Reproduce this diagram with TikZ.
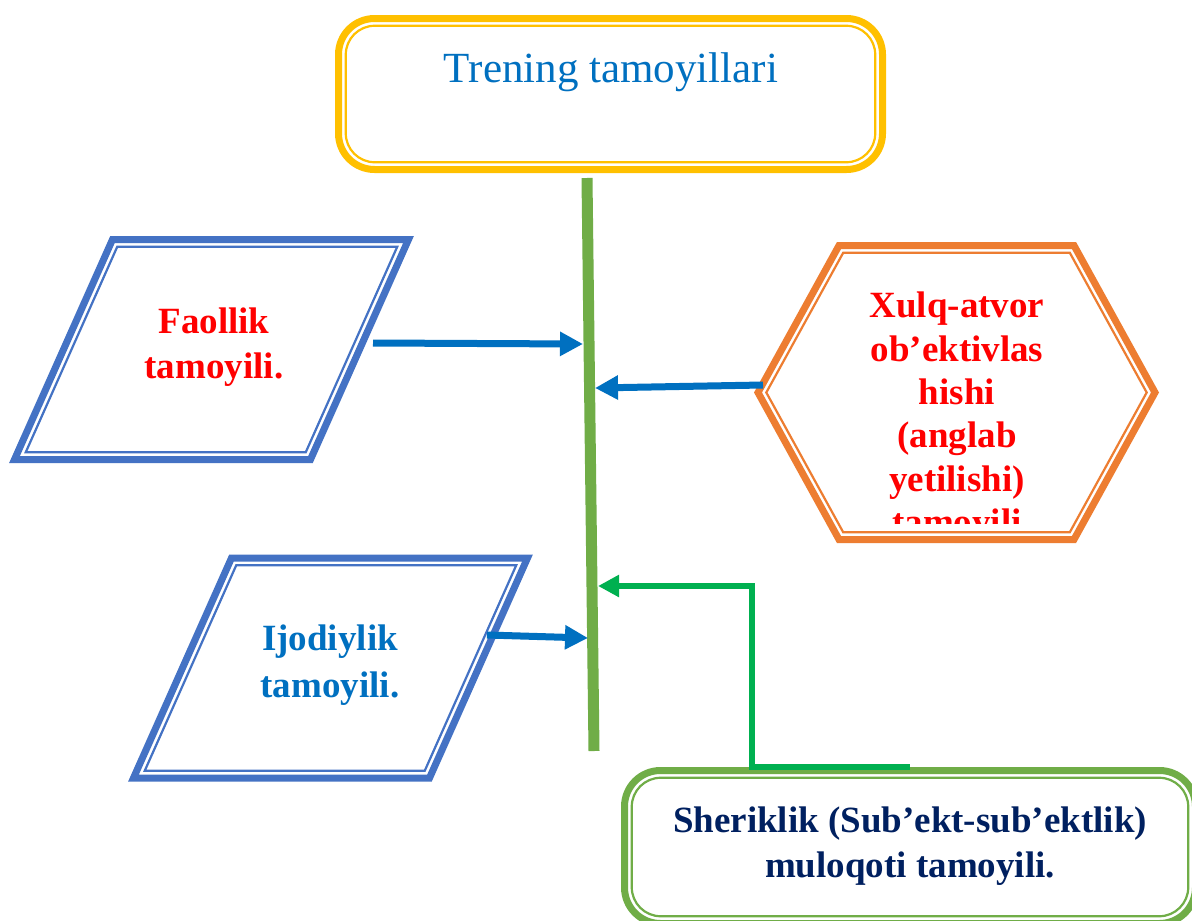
\documentclass[tikz,border=0pt]{standalone}
\usepackage{fontspec}
\setmainfont{Liberation Serif}
\usepackage{xcolor}
\definecolor{gold}{HTML}{FFC000}
\definecolor{titleblue}{HTML}{0070C0}
\definecolor{frameblue}{HTML}{4472C4}
\definecolor{hexorange}{HTML}{ED7D31}
\definecolor{spinegreen}{HTML}{70AD47}
\definecolor{arrowgreen}{HTML}{00B050}
\definecolor{navy}{HTML}{002060}
\definecolor{purered}{HTML}{FF0000}
\usepackage{tikz}
\usetikzlibrary{arrows.meta,calc}
% parallelogram: centre, width, height, slant, style
\newcommand{\pgram}[5]{\draw[#5] ($(#1)+({-#2/2+#4/2},{-#3/2})$) -- ($(#1)+({#2/2+#4/2},{-#3/2})$)
  -- ($(#1)+({#2/2-#4/2},{#3/2})$) -- ($(#1)+({-#2/2-#4/2},{#3/2})$) -- cycle;}
% hexagon: centre, half width, half top edge, half height, style
\newcommand{\hexa}[5]{\draw[#5] ($(#1)+(-#2,0)$) -- ($(#1)+(-#3,-#4)$) -- ($(#1)+(#3,-#4)$)
  -- ($(#1)+(#2,0)$) -- ($(#1)+(#3,#4)$) -- ($(#1)+(-#3,#4)$) -- cycle;}

\begin{document}
\begin{tikzpicture}[x=1pt,y=-1pt,
  thickframe/.style={line width=7pt},
  thinframe/.style={line width=2.2pt},
  lbl/.style={align=center,inner sep=0pt,anchor=north},
  barrow/.style={-{Triangle[length=23pt,width=23pt]},line width=7pt,titleblue},
  garrow/.style={-{Triangle[length=21pt,width=21pt]},line width=6pt,arrowgreen}]
\path[use as bounding box,fill=white] (0,0) rectangle (1192,921);
\clip (0,0) rectangle (1192,921);
% title
\node[draw=gold,thickframe,rounded corners=36pt,minimum width=544pt,minimum height=151pt] (topbox) at (610.5,94) {};
\node[draw=gold,thinframe,rounded corners=29pt,minimum width=529.5pt,minimum height=136.5pt] (topinner) at (topbox.center) {};
\node[font=\fontsize{43}{50}\selectfont,text=titleblue,anchor=base,inner sep=0pt] (title) at (611,82) {Trening tamoyillari};
% spine
\coordinate (ltop) at (587,178);
\coordinate (lbot) at (594,751);
\draw[spinegreen,line width=11pt] (ltop) -- (lbot);
% left shapes
\coordinate (faolC) at (211.5,349.5);
\pgram{faolC}{296}{220}{98}{frameblue,thickframe}
\pgram{faolC}{280}{205.5}{91.5}{frameblue,thinframe}
\node[lbl,font=\fontsize{37}{45}\selectfont\bfseries,text=purered] (faol) at (214,308) {Faollik\\tamoyili.};
\coordinate (ijodC) at (330.5,668);
\pgram{ijodC}{296}{220}{98}{frameblue,thickframe}
\pgram{ijodC}{280}{205.5}{91.5}{frameblue,thinframe}
\node[lbl,font=\fontsize{37}{47}\selectfont\bfseries,text=titleblue] (ijod) at (330,625) {Ijodiylik\\tamoyili.};
% right hexagon
\coordinate (xulqC) at (956.5,392.5);
\hexa{xulqC}{198.5}{117.5}{147}{hexorange,thickframe}
\hexa{xulqC}{190.2}{113.3}{139.75}{hexorange,thinframe}
\begin{scope}
\clip (800,240) rectangle (1110,523);
\node[lbl,font=\fontsize{37}{43.3}\selectfont\bfseries,text=purered] (xulq) at (957,292) {Xulq-atvor\\ob’ektivlas\\hishi\\(anglab\\yetilishi)\\tamoyili};
\end{scope}
% bottom box
\node[draw=spinegreen,thickframe,rounded corners=36pt,minimum width=571pt,minimum height=153pt] (sherbox) at (910,847) {};
\node[draw=spinegreen,thinframe,rounded corners=29pt,minimum width=556.5pt,minimum height=138.5pt] (sherinner) at (sherbox.center) {};
\node[lbl,font=\fontsize{37}{45}\selectfont\bfseries,text=navy] (sher) at (910,807) {Sheriklik (Sub’ekt-sub’ektlik)\\muloqoti tamoyili.};
% connectors
\coordinate (faolE) at (373,343);
\coordinate (hitA) at (583,344);
\coordinate (xulqW) at (763,385);
\coordinate (hitB) at (595,388);
\coordinate (ijodE) at (487,635);
\coordinate (hitC) at (588,638);
\coordinate (hitD) at (598,586);
\draw[barrow] (faolE) -- (hitA);
\draw[barrow] (xulqW) -- (hitB);
\draw[barrow] (ijodE) -- (hitC);
\draw[garrow] (sherbox.north) -- ++(-158,0) |- (hitD);
\end{tikzpicture}
\end{document}
